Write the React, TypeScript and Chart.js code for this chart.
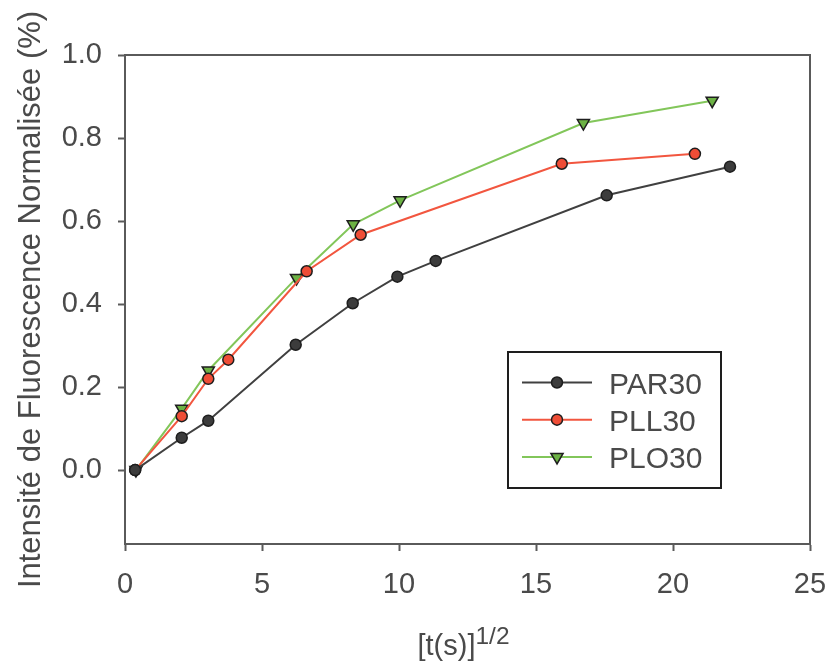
import React, { useEffect, useRef } from "react";
import { Chart, registerables } from "chart.js";

Chart.register(...registerables);

const FONT = "'Liberation Sans', Arial, sans-serif";

const xTicks = [0, 5, 10, 15, 20, 25];
const yTicks = [0, 0.2, 0.4, 0.6, 0.8, 1.0];

const parX = [0.37, 2.07, 3.04, 6.23, 8.31, 9.94, 11.34, 17.58, 22.08];
const parY = [0.0, 0.078, 0.119, 0.302, 0.402, 0.466, 0.504, 0.662, 0.731];

const pllX = [0.37, 2.07, 3.04, 3.77, 6.63, 8.6, 15.94, 20.8];
const pllY = [0.0, 0.13, 0.22, 0.266, 0.479, 0.567, 0.738, 0.762];

const ploX = [0.4, 2.07, 3.04, 6.26, 8.33, 10.04, 16.73, 21.43];
const ploY = [0.0, 0.148, 0.24, 0.463, 0.592, 0.65, 0.836, 0.89];

const seriesNames = ["PAR30", "PLL30", "PLO30"];
const lineColors = ["#404040", "#f2563f", "#82c65a"];
const fillColors = ["#3c3c3c", "#ef4d36", "#6cb244"];
const markerStyles = ["circle", "circle", "triangle"];

const yTitle = "Intensité de Fluorescence Normalisée (%)";
const xTitleMain = "[t(s)]";
const xTitleSup = "1/2";

function toPoints(xs: number[], ys: number[]) {
  return xs.map((x, i) => ({ x, y: ys[i] }));
}

function drawMarker(ctx: CanvasRenderingContext2D, style: string, x: number, y: number, fill: string) {
  ctx.save();
  ctx.fillStyle = fill;
  ctx.strokeStyle = "#1e1e1e";
  ctx.lineWidth = 1.5;
  ctx.beginPath();
  if (style === "triangle") {
    const r = 7;
    ctx.moveTo(x, y + r);
    ctx.lineTo(x - r * 0.866, y - r / 2);
    ctx.lineTo(x + r * 0.866, y - r / 2);
    ctx.closePath();
  } else {
    ctx.arc(x, y, 5.5, 0, Math.PI * 2);
  }
  ctx.fill();
  ctx.stroke();
  ctx.restore();
}

const decorPlugin = {
  id: "decor",
  afterDraw(chart: any) {
    const ctx: CanvasRenderingContext2D = chart.ctx;
    const a = chart.chartArea;
    ctx.save();
    // frame top/right
    ctx.strokeStyle = "#5a5a5a";
    ctx.lineWidth = 2;
    ctx.beginPath();
    ctx.moveTo(a.left, a.top);
    ctx.lineTo(a.right, a.top);
    ctx.lineTo(a.right, a.bottom);
    ctx.stroke();

    // y title
    ctx.fillStyle = "#4a4a4a";
    ctx.font = `31px ${FONT}`;
    ctx.textAlign = "center";
    ctx.textBaseline = "alphabetic";
    ctx.save();
    ctx.translate(40, (a.top + a.bottom) / 2);
    ctx.rotate(-Math.PI / 2);
    ctx.fillText(yTitle, 0, 0);
    ctx.restore();

    // x title with superscript
    ctx.textAlign = "left";
    ctx.font = `29px ${FONT}`;
    const w1 = ctx.measureText(xTitleMain).width;
    ctx.font = `24.5px ${FONT}`;
    const w2 = ctx.measureText(xTitleSup).width;
    const cx = (a.left + a.right) / 2 - 4;
    const sx = cx - (w1 + w2) / 2;
    ctx.font = `29px ${FONT}`;
    ctx.fillText(xTitleMain, sx, 655);
    ctx.font = `24.5px ${FONT}`;
    ctx.fillText(xTitleSup, sx + w1, 644);

    // legend
    const bx = 508, by = 352, bw = 213, bh = 136;
    ctx.strokeStyle = "#1e1e1e";
    ctx.lineWidth = 2;
    ctx.strokeRect(bx, by, bw, bh);
    for (let i = 0; i < seriesNames.length; i++) {
      const ry = 382.5 + i * 37.2;
      ctx.strokeStyle = lineColors[i];
      ctx.lineWidth = 2;
      ctx.beginPath();
      ctx.moveTo(522, ry);
      ctx.lineTo(592, ry);
      ctx.stroke();
      drawMarker(ctx, markerStyles[i], 557, ry, fillColors[i]);
      ctx.fillStyle = "#4a4a4a";
      ctx.font = `30px ${FONT}`;
      ctx.textAlign = "left";
      ctx.textBaseline = "alphabetic";
      ctx.fillText(seriesNames[i], 609, ry + 11);
    }
    ctx.restore();
  },
};

export default function App() {
  const ref = useRef<HTMLCanvasElement>(null);
  useEffect(() => {
    document.body.style.margin = "0";
    const canvas = ref.current;
    if (!canvas) return;
    const data = [toPoints(parX, parY), toPoints(pllX, pllY), toPoints(ploX, ploY)];
    const chart = new Chart(canvas, {
      type: "line",
      data: {
        datasets: seriesNames.map((name, i) => ({
          label: name,
          data: data[i],
          borderColor: lineColors[i],
          backgroundColor: fillColors[i],
          borderWidth: 2,
          pointStyle: markerStyles[i] as any,
          pointRotation: markerStyles[i] === "triangle" ? 180 : 0,
          pointRadius: markerStyles[i] === "triangle" ? 7 : 5.5,
          pointBorderColor: "#1e1e1e",
          pointBackgroundColor: fillColors[i],
          pointBorderWidth: 1.5,
          tension: 0,
          fill: false,
        })),
      },
      options: {
        animation: false,
        responsive: false,
        devicePixelRatio: 1,
        events: [],
        layout: { padding: { top: 55, right: 19, left: 0, bottom: 0 } },
        plugins: { legend: { display: false }, tooltip: { enabled: false } },
        scales: {
          x: {
            type: "linear",
            min: 0,
            max: 25,
            afterBuildTicks: (s: any) => {
              s.ticks = xTicks.map((v) => ({ value: v }));
            },
            afterFit: (s: any) => {
              s.height = 120;
              s.paddingLeft = 0;
              s.paddingRight = 0;
            },
            grid: { drawOnChartArea: false, drawTicks: true, tickLength: 7, tickWidth: 2, tickColor: "#5a5a5a" },
            border: { display: true, color: "#5a5a5a", width: 2 },
            ticks: {
              font: { family: FONT, size: 29 },
              color: "#4a4a4a",
              padding: 17,
              maxRotation: 0,
              autoSkip: false,
              callback: (v: any) => String(v),
            },
          },
          y: {
            type: "linear",
            min: -0.178,
            max: 1.0,
            afterBuildTicks: (s: any) => {
              s.ticks = yTicks.map((v) => ({ value: v }));
            },
            afterFit: (s: any) => {
              s.width = 125;
              s.paddingTop = 0;
              s.paddingBottom = 0;
            },
            grid: { drawOnChartArea: false, drawTicks: true, tickLength: 7, tickWidth: 2, tickColor: "#5a5a5a" },
            border: { display: true, color: "#5a5a5a", width: 2 },
            ticks: {
              font: { family: FONT, size: 29 },
              color: "#4a4a4a",
              padding: 16,
              autoSkip: false,
              callback: (v: any) => Number(v).toFixed(1),
            },
          },
        },
      },
      plugins: [decorPlugin],
    });
    return () => chart.destroy();
  }, []);
  return <canvas ref={ref} width={829} height={664} style={{ display: "block" }} />;
}
